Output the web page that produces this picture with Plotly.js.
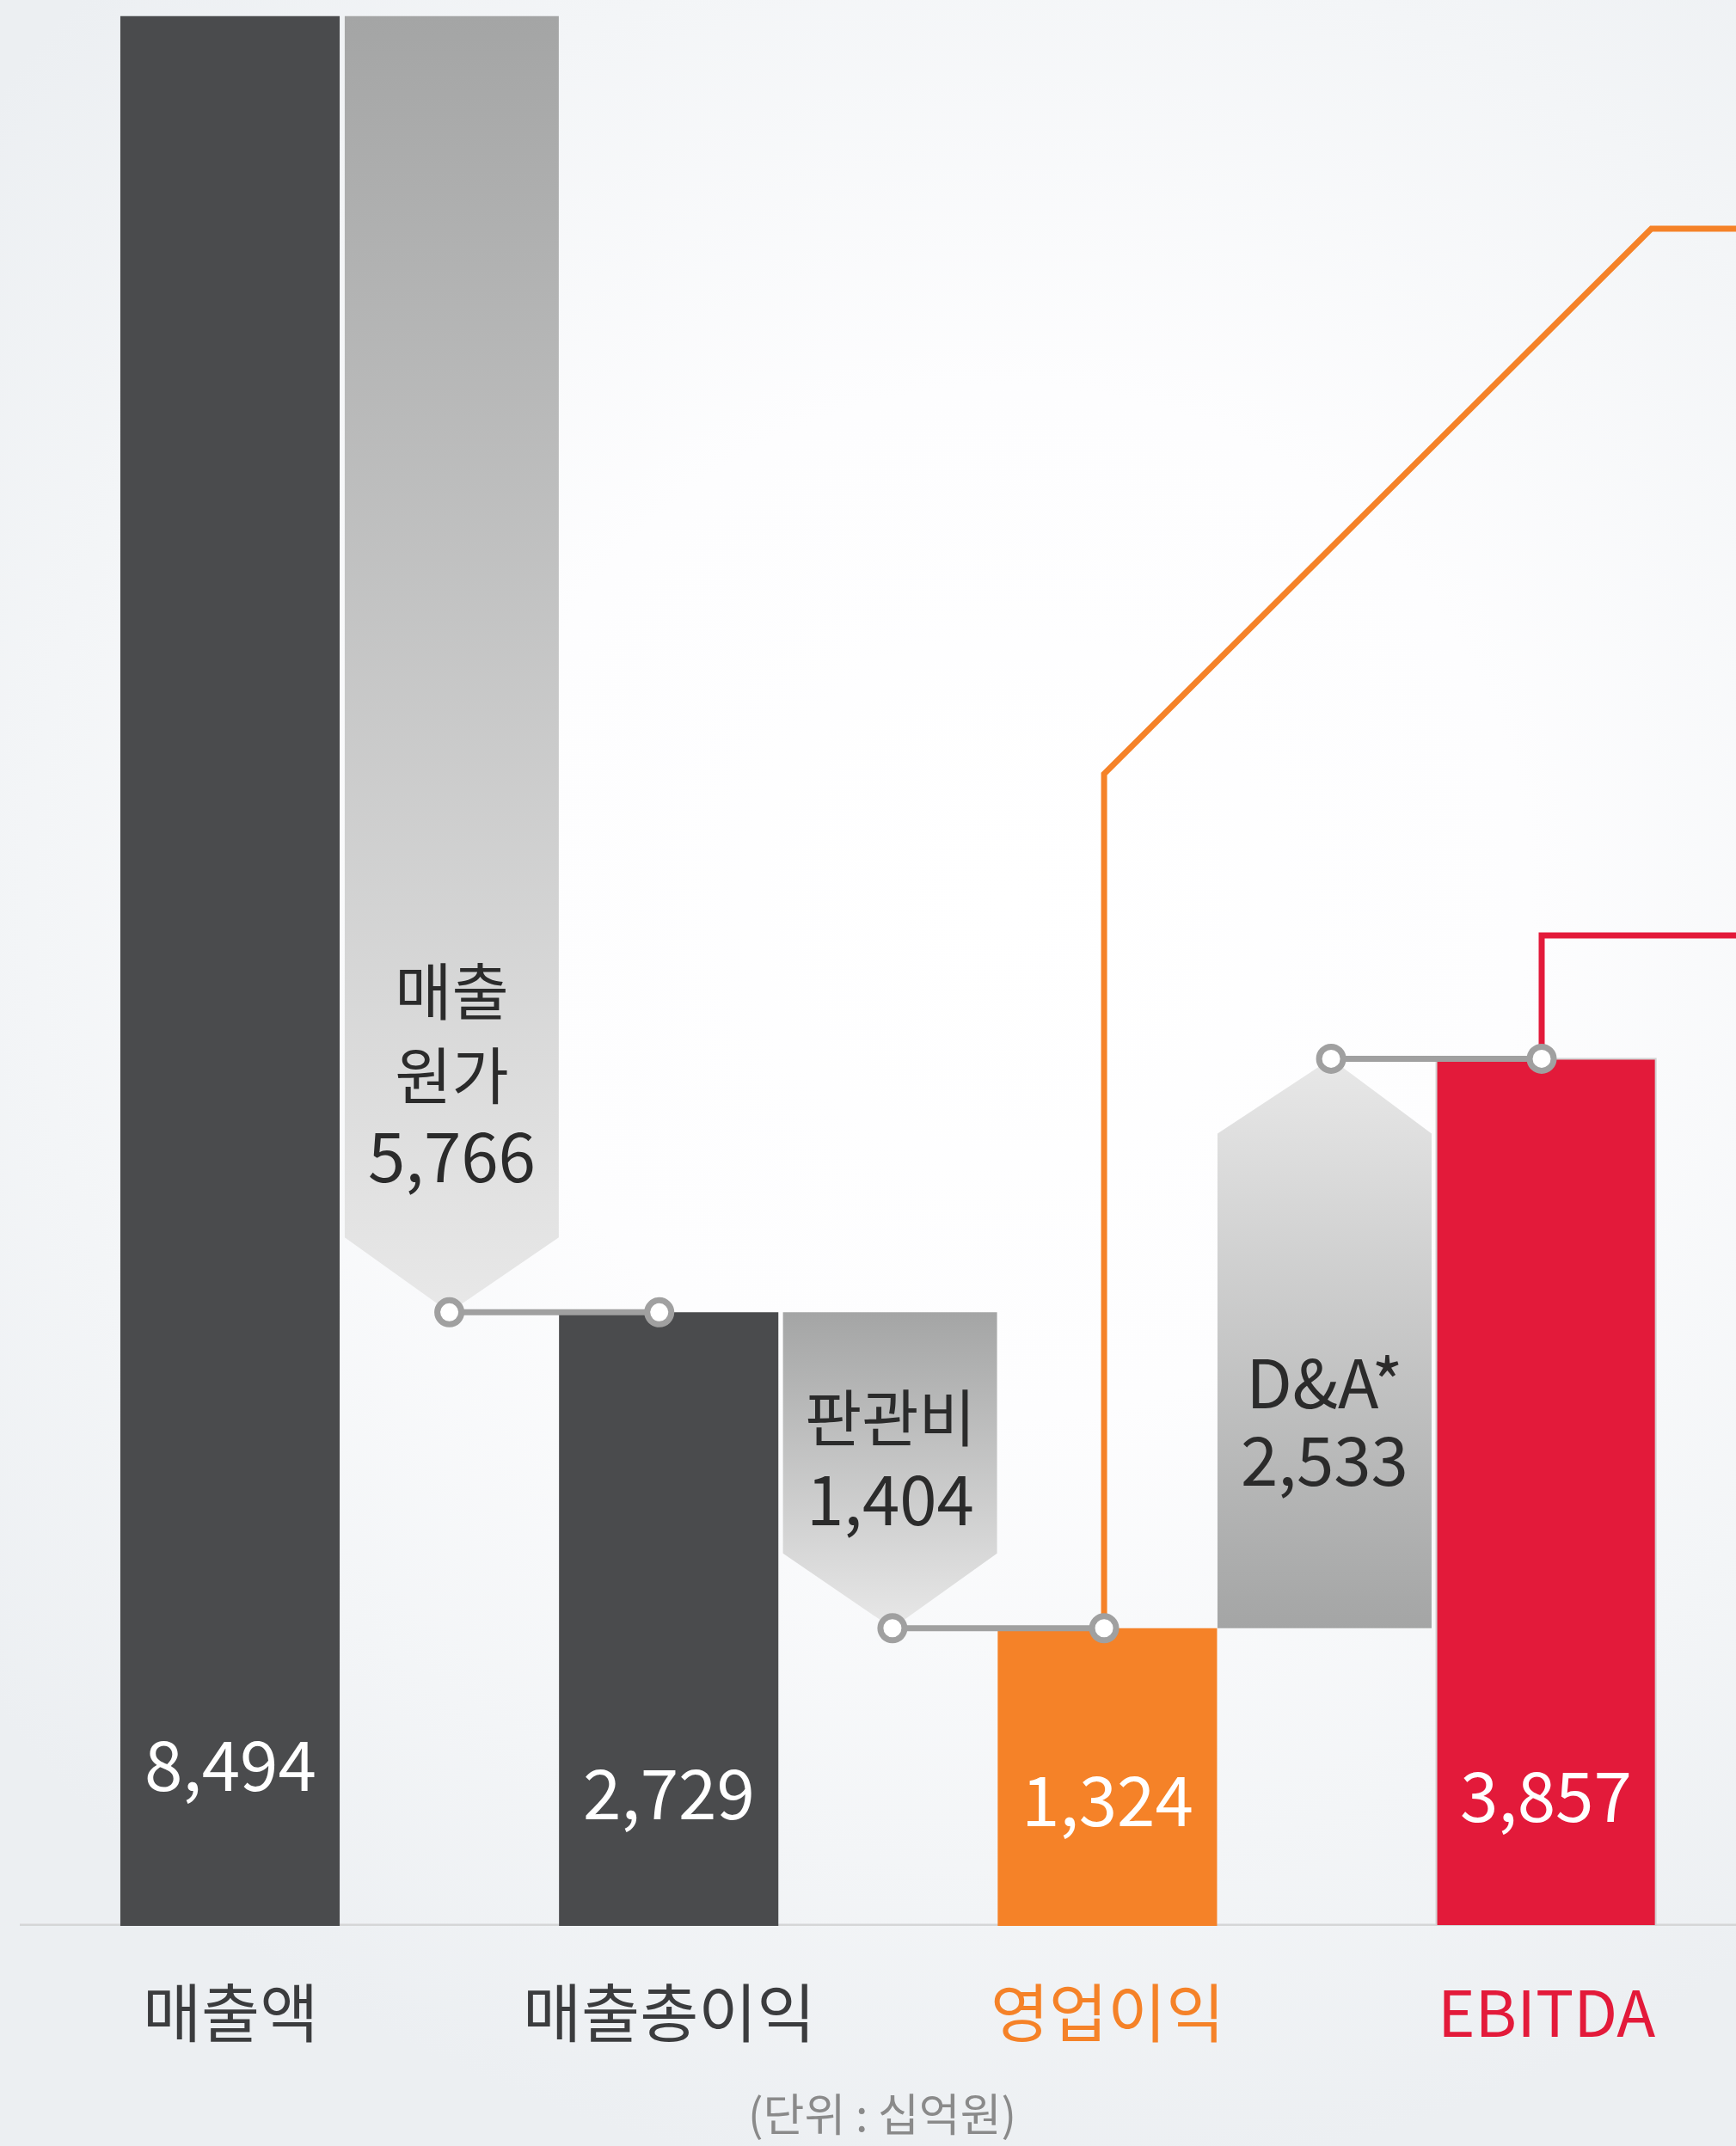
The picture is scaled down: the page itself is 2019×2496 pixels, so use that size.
<!DOCTYPE html>
<html>
<head>
<meta charset="utf-8">
<script src="https://cdn.plot.ly/plotly-3.0.1.min.js"></script>
<style>
html, body { margin: 0; padding: 0; }
#chart {
  width: 2019px; height: 2496px;
  background: radial-gradient(ellipse 75% 60% at 58% 42%, #ffffff 0%, #fdfdfe 40%, #f3f5f7 75%, #eceff2 100%);
}
</style>
</head>
<body>
<div id="chart"></div>
<script>
// ---------- data ----------
const categories = ['매출액', '매출총이익', '영업이익', 'EBITDA'];
const totals = [8494, 2729, 1324, 3857];
const stepNames = [['매출', '원가'], ['판관비'], ['D&A*']];
const stepValues = [5766, 1404, 2533];
const unitNote = '(단위 : 십억원)';

// decorative guide lines leaving the chart to the right (data units)
const orangeGuideX = [3.985, 3.985, 6.48, 7.5];
const orangeGuideY = [1324, 5124, 7549, 7549];
const redGuideX = [5.98, 5.98, 7.5];
const redGuideY = [3857, 4405, 4405];

// ---------- styles / placement ----------
const FONT = '"Noto Sans CJK KR", "Noto Sans", sans-serif';
const totalColors = ['#4a4b4d', '#4a4b4d', '#f58228', '#e31a3a'];
const labelColors = ['#3b3c3e', '#3b3c3e', '#f58228', '#e31a3a'];
const darkGray = '#a4a5a5', lightGray = '#e8e8e8';
const connectorColor = '#a0a0a0';
const arrowDepth = 333;        // data units of the arrow point
const stepHalfWidth = 0.488;
const stepCenterX = [1.011, 3.009, 4.99];
const connectorX = [[1.0, 1.957], [3.02, 3.985], [5.02, 5.98]];
const totalLabelShift = [192, 159, 151, 156];
const stepLabelCenterY = [3801, 2088, 2260];
const stepBaseFont = [75, 75, 69];     // sets line pitch (1.3 x size)
const stepTextSize = [[72, 72, 78], [72, 78], [78, 78]];

const fmt = v => v.toLocaleString('en-US');
const totalX = totals.map((_, i) => 2 * i);

const traces = [];

// step (pentagon) boxes with gradient fill
stepValues.forEach((v, i) => {
  const cx = stepCenterX[i];
  const tip = connectorX[i][0];
  const y0 = totals[i], y1 = totals[i + 1];
  const dir = y1 < y0 ? 1 : -1;
  const shoulder = y1 + dir * arrowDepth;
  const xs = [cx - stepHalfWidth, cx + stepHalfWidth, cx + stepHalfWidth, tip, cx - stepHalfWidth, cx - stepHalfWidth];
  const ys = [y0, y0, shoulder, y1, shoulder, y0];
  const lo = Math.min(y0, y1), hi = Math.max(y0, y1);
  const loColor = y0 < y1 ? darkGray : lightGray;
  const hiColor = y0 < y1 ? lightGray : darkGray;
  traces.push({
    type: 'scatter', mode: 'lines', x: xs, y: ys,
    fill: 'toself', line: { width: 0, color: 'rgba(0,0,0,0)' },
    fillcolor: '#c8c8c8',
    fillgradient: { type: 'vertical', start: lo, stop: hi, colorscale: [[0, loColor], [1, hiColor]] },
    hoverinfo: 'skip', showlegend: false
  });
});

// total bars
traces.push({
  type: 'bar', x: totalX, y: totals, width: 1.0,
  marker: { color: totalColors, line: { width: [0, 0, 0, 2], color: '#d2d2d2' } },
  hoverinfo: 'skip', showlegend: false
});

// guide lines
traces.push({
  type: 'scatter', mode: 'lines', x: orangeGuideX, y: orangeGuideY,
  line: { color: '#f58228', width: 7 }, hoverinfo: 'skip', showlegend: false
});
traces.push({
  type: 'scatter', mode: 'lines', x: redGuideX, y: redGuideY,
  line: { color: '#e31a3a', width: 7 }, hoverinfo: 'skip', showlegend: false
});

// connectors
for (let i = 0; i < stepValues.length; i++) {
  traces.push({
    type: 'scatter', mode: 'lines+markers',
    x: connectorX[i], y: [totals[i + 1], totals[i + 1]],
    line: { color: connectorColor, width: 7 },
    marker: { size: 28, color: '#ffffff', line: { color: connectorColor, width: 7 } },
    cliponaxis: false, hoverinfo: 'skip', showlegend: false
  });
}

// ---------- annotations ----------
const annotations = [];
totals.forEach((v, i) => {
  annotations.push({
    x: totalX[i], y: 0, xref: 'x', yref: 'y', yanchor: 'middle', yshift: totalLabelShift[i],
    text: fmt(v), showarrow: false, font: { family: FONT, size: 80, color: '#ffffff' }
  });
  annotations.push({
    x: totalX[i], y: 0, xref: 'x', yref: 'y', yanchor: 'middle', yshift: -96,
    text: categories[i], showarrow: false, font: { family: FONT, size: 74, color: labelColors[i] }
  });
});
stepValues.forEach((v, i) => {
  const lines = stepNames[i].concat([fmt(v)]);
  const text = lines.map((t, k) =>
    '<span style="font-size:' + stepTextSize[i][k] + 'px">' + t + '</span>').join('<br>');
  annotations.push({
    x: stepCenterX[i], y: stepLabelCenterY[i], xref: 'x', yref: 'y', yanchor: 'middle',
    text: text, showarrow: false, align: 'center',
    font: { family: FONT, size: stepBaseFont[i], color: '#2b2b2b' }
  });
});
annotations.push({
  x: 0.508, y: 0, xref: 'paper', yref: 'paper', yanchor: 'middle', yshift: -216,
  text: unitNote, showarrow: false, font: { family: FONT, size: 52, color: '#8a8a8a' }
});

const layout = {
  width: 2019, height: 2496,
  margin: { l: 0, r: 0, t: 0, b: 256 },
  paper_bgcolor: 'rgba(0,0,0,0)', plot_bgcolor: 'rgba(0,0,0,0)',
  showlegend: false, hovermode: false,
  xaxis: { range: [-267.5 / 255.1, (2019 - 267.5) / 255.1], visible: false, fixedrange: true },
  yaxis: { range: [0, 8566], visible: false, fixedrange: true },
  shapes: [{
    type: 'line', xref: 'paper', yref: 'y', x0: 23 / 2019, x1: 1, y0: 0, y1: 0,
    line: { color: '#d5d6d7', width: 5 }, layer: 'below'
  }],
  annotations: annotations,
  font: { family: FONT }
};

Plotly.newPlot('chart', traces, layout, { displayModeBar: false, staticPlot: true });
</script>
</body>
</html>
